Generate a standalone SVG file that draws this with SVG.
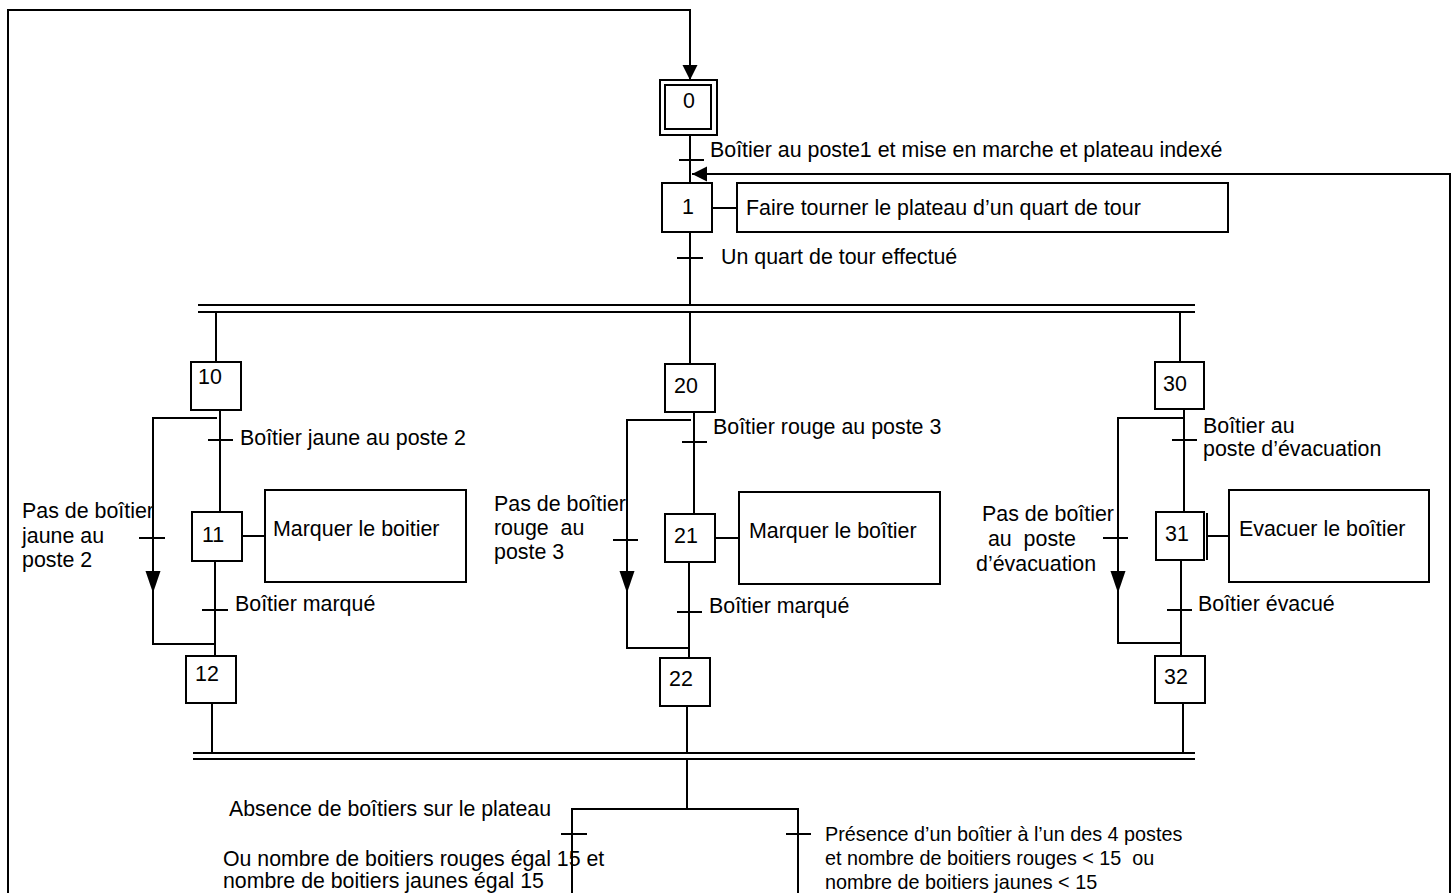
<svg xmlns="http://www.w3.org/2000/svg" width="1456" height="893" viewBox="0 0 1456 893">
<style>
.bg{fill:#fff}
.step{fill:#fff;stroke:#000;stroke-width:2}
.act{fill:#fff;stroke:#000;stroke-width:2}
.ln{fill:none;stroke:#000;stroke-width:2}
.t{font-family:"Liberation Sans",Arial,sans-serif;font-size:21.4px;fill:#000;white-space:pre}
.tl{font-family:"Liberation Sans",Arial,sans-serif;font-size:21.3px;fill:#000;white-space:pre}
.tb{font-family:"Liberation Sans",Arial,sans-serif;font-size:19.8px;fill:#000;white-space:pre}
</style>
<defs>
<marker id="ah" markerUnits="userSpaceOnUse" markerWidth="16" markerHeight="16" refX="15" refY="7.5" orient="auto">
<path d="M0,0 L15,7.5 L0,15 z" fill="#000"/>
</marker>
<marker id="ahl" markerUnits="userSpaceOnUse" markerWidth="24" markerHeight="16" refX="22" refY="7.5" orient="auto">
<path d="M0,0 L22,7.5 L0,15 z" fill="#000"/>
</marker>
</defs>
<rect class="bg" x="0" y="0" width="1456" height="893"/>

<g id="connectors">
<path class="ln" d="M8,893 L8,10 L690,10 L690,80" marker-end="url(#ah)"/>
<path class="ln" d="M1450,893 L1450,174 L692,174" marker-end="url(#ah)"/>
<path class="ln" d="M690,135 L690,183"/>
<path class="ln" d="M679,160 L704,160"/>
<path class="ln" d="M712,208 L737,208"/>
<path class="ln" d="M690,232 L690,305"/>
<path class="ln" d="M677,258 L703,258"/>
<path class="ln" d="M198,305 L1195,305 M198,312 L1195,312"/>
<path class="ln" d="M216,312 L216,362 M690,312 L690,364 M1180,312 L1180,362"/>

<path class="ln" d="M220,410 L220,512"/>
<path class="ln" d="M208,440 L233,440"/>
<path class="ln" d="M217,418 L153,418 L153,593" marker-end="url(#ahl)"/>
<path class="ln" d="M153,590 L153,644 L216,644"/>
<path class="ln" d="M139,538 L165,538"/>
<path class="ln" d="M242,536 L265,536"/>
<path class="ln" d="M215,561 L215,656"/>
<path class="ln" d="M202,610 L228,610"/>

<path class="ln" d="M694,412 L694,514"/>
<path class="ln" d="M682,442 L707,442"/>
<path class="ln" d="M691,420 L627,420 L627,593" marker-end="url(#ahl)"/>
<path class="ln" d="M627,590 L627,648 L690,648"/>
<path class="ln" d="M613,540 L638,540"/>
<path class="ln" d="M715,538 L739,538"/>
<path class="ln" d="M689,562 L689,658"/>
<path class="ln" d="M677,612 L702,612"/>

<path class="ln" d="M1184,409 L1184,512"/>
<path class="ln" d="M1172,440 L1197,440"/>
<path class="ln" d="M1184,418 L1118,418 L1118,593" marker-end="url(#ahl)"/>
<path class="ln" d="M1118,590 L1118,643 L1180,643"/>
<path class="ln" d="M1103,538 L1128,538"/>
<path class="ln" d="M1207,536 L1229,536"/>
<path class="ln" d="M1181,560 L1181,656"/>
<path class="ln" d="M1167,610 L1192,610"/>

<path class="ln" d="M212,703 L212,753 M687,706 L687,753 M1183,703 L1183,753"/>
<path class="ln" d="M193,753 L1195,753 M193,759 L1195,759"/>
<path class="ln" d="M687,759 L687,809"/>
<path class="ln" d="M572,893 L572,809 L798,809 L798,893"/>
<path class="ln" d="M561,834 L587,834 M786,834 L811,834"/>
</g>

<g id="step0">
<rect class="step" x="660" y="80" width="57" height="55"/>
<rect class="step" x="665" y="85" width="46" height="44"/>
<text class="t" x="689" y="108" text-anchor="middle">0</text>
</g>
<g id="t0"><text class="t" x="710" y="157">Boîtier au poste1 et mise en marche et plateau indexé</text></g>

<g id="step1">
<rect class="step" x="662" y="183" width="50" height="49"/>
<text class="t" x="688" y="214" text-anchor="middle">1</text>
</g>
<g id="action1">
<rect class="act" x="737" y="183" width="491" height="49"/>
<text class="t" x="746" y="215">Faire tourner le plateau d’un quart de tour</text>
</g>
<g id="t1"><text class="t" x="721" y="264">Un quart de tour effectué</text></g>

<g id="step10">
<rect class="step" x="191" y="362" width="50" height="48"/>
<text class="t" x="198" y="384">10</text>
</g>
<g id="t10"><text class="t" x="240" y="445">Boîtier jaune au poste 2</text></g>
<g id="t10b">
<text class="t" x="22" y="518">Pas de boîtier</text>
<text class="t" x="22" y="543">jaune au</text>
<text class="t" x="22" y="567">poste 2</text>
</g>
<g id="step11">
<rect class="step" x="192" y="512" width="50" height="49"/>
<text class="t" x="202" y="542">11</text>
</g>
<g id="action11">
<rect class="act" x="265" y="490" width="201" height="92"/>
<text class="t" x="273" y="536">Marquer le boitier</text>
</g>
<g id="t11"><text class="t" x="235" y="611">Boîtier marqué</text></g>
<g id="step12">
<rect class="step" x="186" y="656" width="50" height="47"/>
<text class="t" x="195" y="681">12</text>
</g>

<g id="step20">
<rect class="step" x="665" y="364" width="50" height="48"/>
<text class="t" x="674" y="393">20</text>
</g>
<g id="t20"><text class="t" x="713" y="434">Boîtier rouge au poste 3</text></g>
<g id="t20b">
<text class="t" x="494" y="511">Pas de boîtier</text>
<text class="t" x="494" y="535" xml:space="preserve">rouge  au</text>
<text class="t" x="494" y="559">poste 3</text>
</g>
<g id="step21">
<rect class="step" x="665" y="514" width="50" height="48"/>
<text class="t" x="674" y="543">21</text>
</g>
<g id="action21">
<rect class="act" x="739" y="492" width="201" height="92"/>
<text class="t" x="749" y="538">Marquer le boîtier</text>
</g>
<g id="t21"><text class="t" x="709" y="613">Boîtier marqué</text></g>
<g id="step22">
<rect class="step" x="660" y="658" width="50" height="48"/>
<text class="t" x="669" y="686">22</text>
</g>

<g id="step30">
<rect class="step" x="1155" y="362" width="49" height="47"/>
<text class="t" x="1163" y="391">30</text>
</g>
<g id="t30">
<text class="t" x="1203" y="433">Boîtier au</text>
<text class="t" x="1203" y="456">poste d’évacuation</text>
</g>
<g id="t30b">
<text class="t" x="982" y="521">Pas de boîtier</text>
<text class="t" x="982" y="546" xml:space="preserve"> au  poste</text>
<text class="t" x="976" y="571">d’évacuation</text>
</g>
<g id="step31">
<rect class="step" x="1156" y="512" width="48" height="48"/>
<path class="ln" d="M1207,513 L1207,560"/>
<text class="t" x="1165" y="541">31</text>
</g>
<g id="action31">
<rect class="act" x="1229" y="490" width="200" height="92"/>
<text class="t" x="1239" y="536">Evacuer le boîtier</text>
</g>
<g id="t31"><text class="t" x="1198" y="611">Boîtier évacué</text></g>
<g id="step32">
<rect class="step" x="1155" y="656" width="50" height="47"/>
<text class="t" x="1164" y="684">32</text>
</g>

<g id="tbottomL">
<text class="tl" x="229" y="816">Absence de boîtiers sur le plateau</text>
<text class="tl" x="223" y="866">Ou nombre de boitiers rouges égal 15 et</text>
<text class="tl" x="223" y="888">nombre de boitiers jaunes égal 15</text>
</g>
<g id="tbottomR">
<text class="tb" x="825" y="841">Présence d’un boîtier à l’un des 4 postes</text>
<text class="tb" x="825" y="865" xml:space="preserve">et nombre de boitiers rouges &lt; 15  ou</text>
<text class="tb" x="825" y="889">nombre de boitiers jaunes &lt; 15</text>
</g>
</svg>
